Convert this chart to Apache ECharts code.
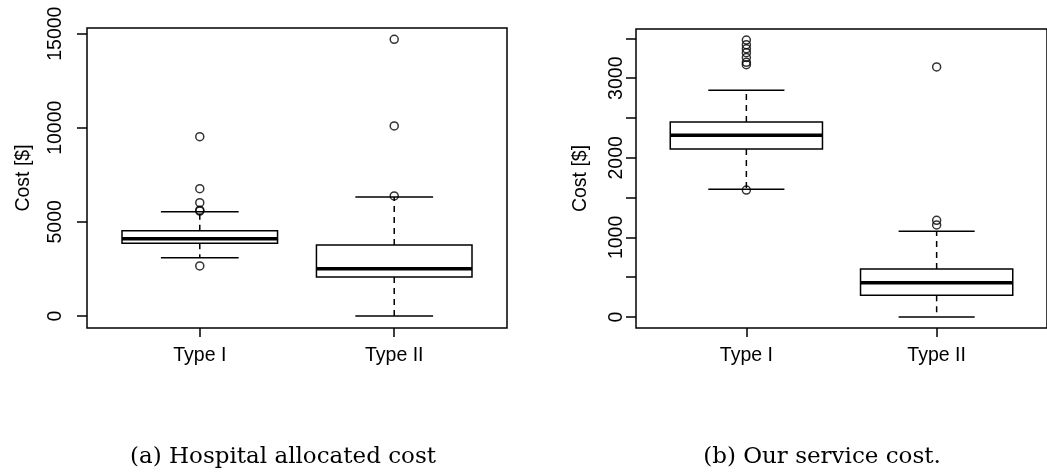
<!DOCTYPE html>
<html>
<head>
<meta charset="utf-8">
<script src="https://cdn.jsdelivr.net/npm/echarts@6/dist/echarts.min.js"></script>
<style>
  html, body { margin: 0; padding: 0; background: #fff; }
  #main { width: 1047px; height: 474px; }
</style>
</head>
<body>
<div id="main"></div>
<script>
// 数据: [下须, Q1, 中位数, Q3, 上须]
const categories = ['Type I', 'Type II'];
const hospitalTypeI = [3097, 3862, 4107, 4532, 5542];
const hospitalTypeII = [0, 2072, 2513, 3772, 6322];
const hospitalOutliersI = [9526, 6764, 6020, 5620, 5570, 2657];
const hospitalOutliersII = [14701, 10095, 6376];
const serviceTypeI = [1604, 2111, 2283, 2450, 2848];
const serviceTypeII = [0, 273, 431, 603, 1076];
const serviceOutliersI = [3480, 3420, 3370, 3320, 3260, 3200, 3170, 1595];
const serviceOutliersII = [3141, 1215, 1156];
const hospitalTicks = [0, 5000, 10000, 15000];
const serviceTicks = [0, 500, 1000, 1500, 2000, 2500, 3000, 3500];
const serviceLabels = [0, 1000, 2000, 3000];
const captions = ['(a) Hospital allocated cost', '(b) Our service cost.'];

const sansFont = 'Liberation Sans, Arial, sans-serif';
const serifFont = 'DejaVu Serif, serif';
const BOX_HALF = 0.4;  // R boxwex 0.8
const CAP_HALF = 0.2;  // staplewex 0.5
const LW = 1.5;

function renderBox(params, api) {
  const x = api.value(0);
  const lo = api.value(1), q1 = api.value(2), med = api.value(3), q3 = api.value(4), hi = api.value(5);
  const cx = api.coord([x, med])[0];
  const bl = api.coord([x - BOX_HALF, q1])[0];
  const br = api.coord([x + BOX_HALF, q1])[0];
  const cl = api.coord([x - CAP_HALF, lo])[0];
  const cr = api.coord([x + CAP_HALF, lo])[0];
  const yLo = api.coord([x, lo])[1];
  const yQ1 = api.coord([x, q1])[1];
  const yMed = api.coord([x, med])[1];
  const yQ3 = api.coord([x, q3])[1];
  const yHi = api.coord([x, hi])[1];
  const solid = { stroke: '#000', lineWidth: LW, fill: null };
  const dashed = { stroke: '#000', lineWidth: LW, lineDash: [6, 5] };
  return {
    type: 'group',
    children: [
      { type: 'line', shape: { x1: cx, y1: yQ3, x2: cx, y2: yHi }, style: dashed },
      { type: 'line', shape: { x1: cx, y1: yQ1, x2: cx, y2: yLo }, style: dashed },
      { type: 'line', shape: { x1: cl, y1: yHi, x2: cr, y2: yHi }, style: solid },
      { type: 'line', shape: { x1: cl, y1: yLo, x2: cr, y2: yLo }, style: solid },
      { type: 'rect', shape: { x: bl, y: yQ3, width: br - bl, height: yQ1 - yQ3 }, style: { stroke: '#000', lineWidth: LW, fill: '#fff' } },
      { type: 'line', shape: { x1: bl, y1: yMed, x2: br, y2: yMed }, style: { stroke: '#000', lineWidth: 3.5 } }
    ]
  };
}

function toPoints(idx, arr) {
  return arr.map(v => [idx, v]);
}

function xAxisFor(gridIndex, max) {
  return {
    type: 'value', gridIndex, min: 0.42, max,
    axisLine: { show: false, onZero: false },
    splitLine: { show: false },
    axisTick: { show: true, length: 9, customValues: [1, 2], lineStyle: { color: '#000', width: LW } },
    axisLabel: {
      customValues: [1, 2], margin: 18, color: '#000', fontFamily: sansFont, fontSize: 19.5,
      formatter: v => categories[v - 1]
    }
  };
}

function yAxisFor(gridIndex, min, max, ticks, labels, margin, nameGap) {
  return {
    type: 'value', gridIndex, min, max,
    name: 'Cost [$]', nameLocation: 'middle', nameRotate: 90, nameGap,
    nameTextStyle: { color: '#000', fontFamily: sansFont, fontSize: 19.5 },
    axisLine: { show: false, onZero: false },
    splitLine: { show: false },
    axisTick: { show: true, length: 10, customValues: ticks, lineStyle: { color: '#000', width: LW } },
    axisLabel: {
      customValues: labels, rotate: 90, margin, color: '#000', fontFamily: sansFont, fontSize: 19.5,
      formatter: v => String(v)
    }
  };
}

const outlierStyle = { color: 'rgba(0,0,0,0)', borderColor: '#000', borderWidth: 1.5 };

const chart = echarts.init(document.getElementById('main'), null, { renderer: 'canvas' });
chart.setOption({
  animation: false,
  backgroundColor: '#fff',
  title: [
    { text: captions[0], left: 278, top: 441, textAlign: 'center', textStyle: { fontFamily: serifFont, fontSize: 23, fontWeight: 'normal', color: '#000' } },
    { text: captions[1], left: 817, top: 441, textAlign: 'center', textStyle: { fontFamily: serifFont, fontSize: 23, fontWeight: 'normal', color: '#000' } }
  ],
  grid: [
    { left: 87, top: 28, width: 420, height: 300, show: true, borderColor: '#000', borderWidth: LW },
    { left: 636, top: 29, width: 420, height: 299, show: true, borderColor: '#000', borderWidth: LW }
  ],
  xAxis: [xAxisFor(0, 2.58), xAxisFor(1, 2.58)],
  yAxis: [
    yAxisFor(0, -640, 15300, hospitalTicks, hospitalTicks, 21, 53),
    yAxisFor(1, -138, 3618, serviceTicks, serviceLabels, 9, 45)
  ],
  series: [
    {
      type: 'custom', xAxisIndex: 0, yAxisIndex: 0, renderItem: renderBox,
      encode: { x: 0, y: [1, 2, 3, 4, 5] },
      data: [[1, ...hospitalTypeI], [2, ...hospitalTypeII]]
    },
    {
      type: 'custom', xAxisIndex: 1, yAxisIndex: 1, renderItem: renderBox,
      encode: { x: 0, y: [1, 2, 3, 4, 5] },
      data: [[1, ...serviceTypeI], [2, ...serviceTypeII]]
    },
    {
      type: 'scatter', xAxisIndex: 0, yAxisIndex: 0, symbol: 'circle', symbolSize: 8,
      itemStyle: outlierStyle,
      data: toPoints(1, hospitalOutliersI).concat(toPoints(2, hospitalOutliersII))
    },
    {
      type: 'scatter', xAxisIndex: 1, yAxisIndex: 1, symbol: 'circle', symbolSize: 8,
      itemStyle: outlierStyle,
      data: toPoints(1, serviceOutliersI).concat(toPoints(2, serviceOutliersII))
    }
  ]
});
</script>
</body>
</html>
